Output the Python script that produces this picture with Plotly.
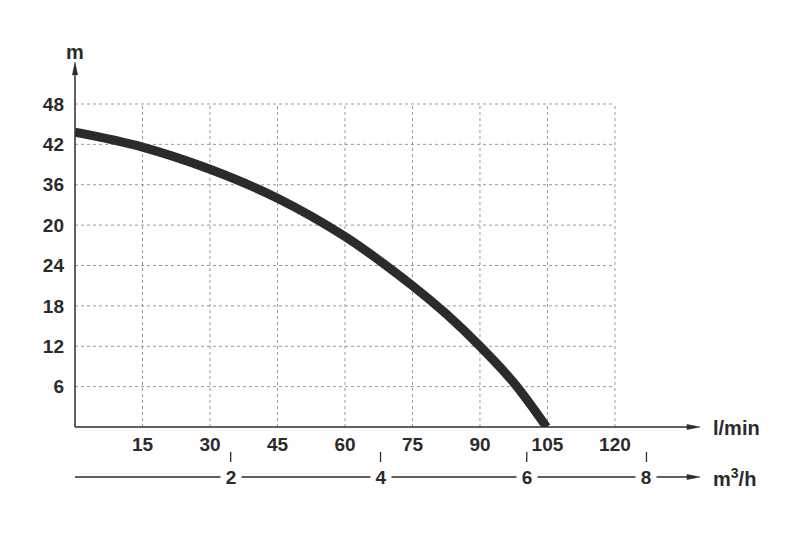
import plotly.graph_objects as go

# ---- data ----
flow_lpm = [0, 15, 30, 45, 60, 75, 82.5, 90, 97.5, 104.8]
head_m = [43.8, 41.6, 38.3, 34.0, 28.3, 21.0, 16.8, 12.0, 6.6, 0.0]

x_ticks = [15, 30, 45, 60, 75, 90, 105, 120]
x_ticklabels = ["15", "30", "45", "60", "75", "90", "105", "120"]
y_ticks = [6, 12, 18, 24, 30, 36, 42, 48]
y_ticklabels = ["6", "12", "18", "24", "20", "36", "42", "48"]

m3h_tick_pos = [34.6, 67.9, 100.4, 127.0]   # positions in l/min as drawn
m3h_ticklabels = ["2", "4", "6", "8"]

x_max = 138.9
y_max = 54.24

INK = "#2b2b2b"
GRID = "#9a9a9a"
FONT = "Liberation Sans, Arial, sans-serif"

fig = go.Figure()

fig.add_trace(go.Scatter(
    x=flow_lpm, y=head_m, mode="lines",
    line=dict(color=INK, width=9, shape="spline", smoothing=1.0),
    hoverinfo="skip", showlegend=False, cliponaxis=False,
))

shapes = []
# grid lines
for xv in x_ticks:
    shapes.append(dict(type="line", xref="x", yref="y", x0=xv, x1=xv, y0=0, y1=max(y_ticks),
                       line=dict(color=GRID, width=1, dash="dot"), layer="below"))
for yv in y_ticks:
    shapes.append(dict(type="line", xref="x", yref="y", x0=0, x1=max(x_ticks), y0=yv, y1=yv,
                       line=dict(color=GRID, width=1, dash="dot"), layer="below"))

# axis lines
shapes.append(dict(type="line", xref="x", yref="paper", x0=0, x1=x_max - 2, y0=0, y1=0,
                   line=dict(color=INK, width=1.5)))
shapes.append(dict(type="line", xref="paper", yref="y", x0=0, x1=0, y0=0, y1=y_max - 2,
                   line=dict(color=INK, width=1.5)))
# arrowheads
shapes.append(dict(type="path", xref="x", yref="paper", xsizemode="pixel", ysizemode="pixel",
                   xanchor=x_max, yanchor=0, path="M-13,-2.6 L0,0 L-13,2.6 Z",
                   fillcolor=INK, line=dict(color=INK, width=0.5)))
shapes.append(dict(type="path", xref="paper", yref="y", xsizemode="pixel", ysizemode="pixel",
                   xanchor=0, yanchor=y_max, path="M-2.6,-13 L0,0 L2.6,-13 Z",
                   fillcolor=INK, line=dict(color=INK, width=0.5)))

# m3/h secondary axis
PH = 365.0
y_line = -50 / PH
shapes.append(dict(type="line", xref="x", yref="paper", x0=0, x1=x_max - 2, y0=y_line, y1=y_line,
                   line=dict(color=INK, width=1.3)))
shapes.append(dict(type="path", xref="x", yref="paper", xsizemode="pixel", ysizemode="pixel",
                   xanchor=x_max, yanchor=y_line, path="M-13,-2.6 L0,0 L-13,2.6 Z",
                   fillcolor=INK, line=dict(color=INK, width=0.5)))
for xv in m3h_tick_pos:
    shapes.append(dict(type="line", xref="x", yref="paper", x0=xv, x1=xv,
                       y0=-25 / PH, y1=-35 / PH, line=dict(color=INK, width=1.3)))

annotations = []
for xv, lab in zip(m3h_tick_pos, m3h_ticklabels):
    annotations.append(dict(x=xv, y=y_line, xref="x", yref="paper", text=lab, showarrow=False,
                            font=dict(family=FONT, size=19, color=INK, weight="bold"),
                            bgcolor="white", borderpad=0, xanchor="center", yanchor="middle",
                            width=20))

annotations.append(dict(x=0, y=1.027, xref="x", yref="paper", text="m", showarrow=False,
                        font=dict(family=FONT, size=20, color=INK, weight="bold"),
                        xanchor="center", yanchor="middle"))
annotations.append(dict(x=1.018, y=-0.004, xref="paper", yref="paper", text="l/min", showarrow=False,
                        font=dict(family=FONT, size=20, color=INK, weight="bold"),
                        xanchor="left", yanchor="middle"))
annotations.append(dict(x=1.018, y=y_line, xref="paper", yref="paper", text="m<sup>3</sup>/h",
                        showarrow=False,
                        font=dict(family=FONT, size=20, color=INK, weight="bold"),
                        xanchor="left", yanchor="middle"))

# page body has an 8px default margin, so offset the plot area accordingly
fig.update_layout(
    width=800, height=533,
    margin=dict(l=67, r=108, t=54, b=114),
    paper_bgcolor="white", plot_bgcolor="white",
    xaxis=dict(range=[0, x_max], tickvals=x_ticks, ticktext=x_ticklabels,
               showgrid=False, zeroline=False, showline=False, ticks="",
               tickfont=dict(family=FONT, size=19, color=INK, weight="bold"),
               ticklabelstandoff=4, fixedrange=True),
    yaxis=dict(range=[0, y_max], tickvals=y_ticks, ticktext=y_ticklabels,
               showgrid=False, zeroline=False, showline=False, ticks="",
               tickfont=dict(family=FONT, size=19, color=INK, weight="bold"),
               ticklabelstandoff=10, fixedrange=True),
    shapes=shapes, annotations=annotations,
    showlegend=False,
)

fig.write_html("out.html")
